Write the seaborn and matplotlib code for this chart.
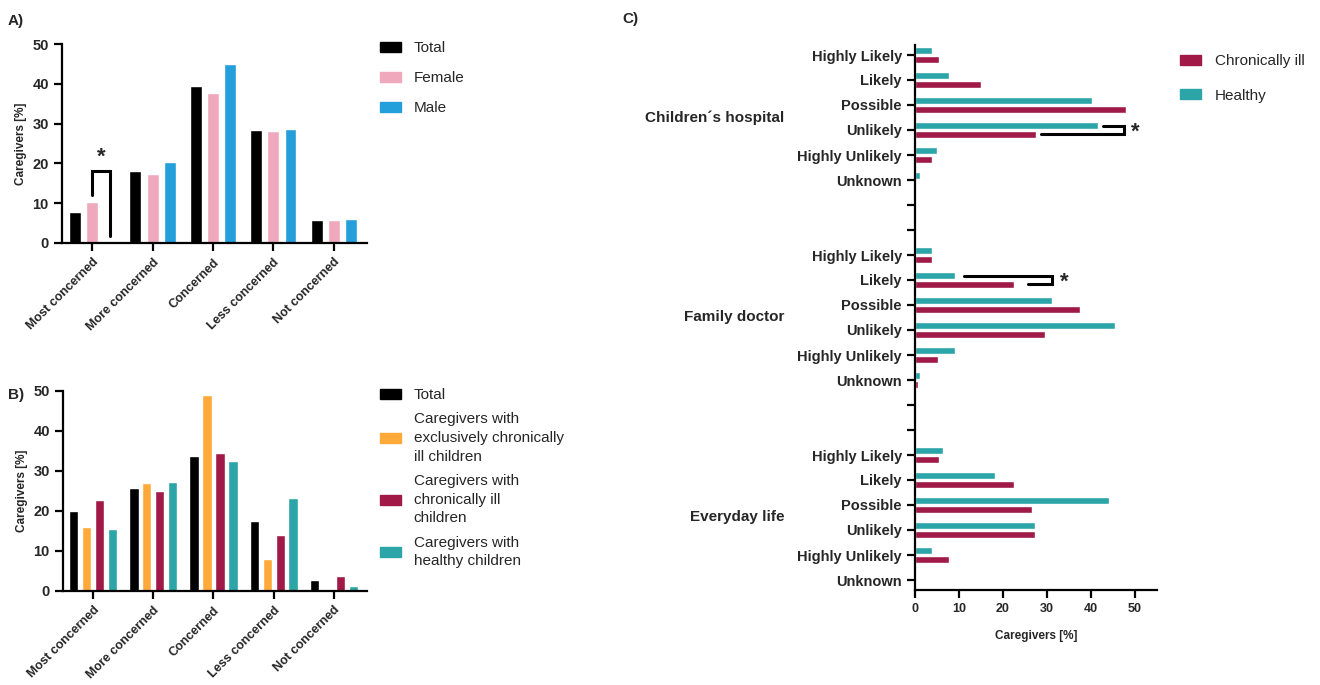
import numpy as np
import pandas as pd
import matplotlib
matplotlib.use("Agg")
import matplotlib.pyplot as plt
import matplotlib.transforms as mtransforms
from matplotlib.patches import Patch
import seaborn as sns

# ---------------- data ----------------
concern = ["Most concerned", "More concerned", "Concerned", "Less concerned", "Not concerned"]

a_groups = ["Total", "Female", "Male"]
a_total = [7.8, 18.0, 39.5, 28.3, 5.8]
a_female = [10.3, 17.3, 37.8, 28.1, 5.8]
a_male = [0.0, 20.3, 44.9, 28.6, 6.1]

b_groups = ["Total",
            "Caregivers with\nexclusively chronically\nill children",
            "Caregivers with\nchronically ill\nchildren",
            "Caregivers with\nhealthy children"]
b_total = [19.9, 25.8, 33.7, 17.5, 2.8]
b_excl = [16.0, 27.0, 49.0, 8.0, 0.0]
b_chronic = [22.7, 25.0, 34.4, 14.0, 3.8]
b_healthy = [15.5, 27.3, 32.5, 23.3, 1.2]

likelihood = ["Highly Likely", "Likely", "Possible", "Unlikely", "Highly Unlikely", "Unknown"]
settings = ["Children´s hospital", "Family doctor", "Everyday life"]
c_groups = ["Healthy", "Chronically ill"]
c_hosp_healthy = [3.9, 7.7, 40.3, 41.5, 5.0, 1.2]
c_hosp_chronic = [5.4, 14.9, 48.0, 27.5, 3.9, 0.0]
c_doc_healthy = [3.9, 9.0, 31.2, 45.4, 9.0, 1.2]
c_doc_chronic = [3.9, 22.6, 37.4, 29.6, 5.3, 0.6]
c_life_healthy = [6.4, 18.2, 44.1, 27.3, 3.9, 0.0]
c_life_chronic = [5.4, 22.6, 26.7, 27.3, 7.7, 0.0]

# ---------------- style ----------------
sns.set_style("ticks")
plt.rcParams["font.family"] = ["Liberation Sans", "DejaVu Sans"]
plt.rcParams["axes.linewidth"] = 1.6

pal_a = {"Total": "#000000", "Female": "#F0A8BC", "Male": "#249FDB"}
pal_b = dict(zip(b_groups, ["#000000", "#FFA93A", "#A11A47", "#2BA5A7"]))
pal_c = {"Healthy": "#2BA5A7", "Chronically ill": "#A11A47"}

fig = plt.figure(figsize=(13.2, 6.85), dpi=100)
W, H = 1320, 685


def fx(px):
    return px / W


def fy(py):
    return 1 - py / H


def style_axes(ax):
    sns.despine(ax=ax)
    ax.tick_params(width=1.6, length=6, color="black")
    for s in ("left", "bottom"):
        ax.spines[s].set_color("black")


# ---------------- panel A ----------------
dfa = pd.DataFrame({
    "concern": concern * 3,
    "group": sum([[g] * 5 for g in a_groups], []),
    "value": a_total + a_female + a_male,
})
axA = fig.add_axes([fx(62), fy(243), fx(305), 199 / H])
sns.barplot(data=dfa, x="concern", y="value", hue="group", order=concern,
            hue_order=a_groups, palette=pal_a, width=0.85, gap=0.3,
            errorbar=None, legend=False, ax=axA, saturation=1)
axA.set_ylim(0, 50)
axA.set_xlim(-0.5, 4.55)
axA.set_yticks([0, 10, 20, 30, 40, 50])
style_axes(axA)
axA.set_xlabel("")
axA.set_ylabel("Caregivers [%]", fontsize=8.5, fontweight="bold")
for lab in axA.get_yticklabels():
    lab.set_fontsize(10.5)
    lab.set_fontweight("bold")
axA.set_xticks(range(5))
axA.set_xticklabels(concern, rotation=45, ha="right", rotation_mode="anchor",
                    fontsize=9, fontweight="bold")
# significance bracket Female vs Male (Most concerned)
sig_h = 18
axA.plot([0, 0, 0.3, 0.3], [12, sig_h, sig_h, 1.7], color="black", lw=2.2,
         solid_joinstyle="miter")
axA.text(0.15, sig_h + 0.8, "*", ha="center", va="bottom", fontsize=16, fontweight="bold")

legA = axA.legend(handles=[Patch(color=pal_a[g], label=g) for g in a_groups],
                  loc="upper left", bbox_to_anchor=(fx(380), fy(41)),
                  bbox_transform=fig.transFigure, frameon=False, fontsize=11,
                  handlelength=1.35, handleheight=0.65, handletextpad=0.85,
                  labelspacing=1.05, borderpad=0, borderaxespad=0)

# ---------------- panel B ----------------
dfb = pd.DataFrame({
    "concern": concern * 4,
    "group": sum([[g] * 5 for g in b_groups], []),
    "value": b_total + b_excl + b_chronic + b_healthy,
})
axB = fig.add_axes([fx(63), fy(591), fx(304), 200 / H])
sns.barplot(data=dfb, x="concern", y="value", hue="group", order=concern,
            hue_order=b_groups, palette=pal_b, width=0.86, gap=0.28,
            errorbar=None, legend=False, ax=axB, saturation=1)
axB.set_ylim(0, 50)
axB.set_xlim(-0.5, 4.55)
axB.set_yticks([0, 10, 20, 30, 40, 50])
style_axes(axB)
axB.set_xlabel("")
axB.set_ylabel("Caregivers [%]", fontsize=8.5, fontweight="bold")
for lab in axB.get_yticklabels():
    lab.set_fontsize(10.5)
    lab.set_fontweight("bold")
axB.set_xticks(range(5))
axB.set_xticklabels(concern, rotation=45, ha="right", rotation_mode="anchor",
                    fontsize=9, fontweight="bold")
legB = axB.legend(handles=[Patch(color=pal_b[g], label=g) for g in b_groups],
                  loc="upper left", bbox_to_anchor=(fx(380), fy(388)),
                  bbox_transform=fig.transFigure, frameon=False, fontsize=11,
                  handlelength=1.35, handleheight=0.65, handletextpad=0.85,
                  labelspacing=0.68, borderpad=0, borderaxespad=0)
for t in legB.get_texts():
    t.set_linespacing(1.42)

# ---------------- panel C ----------------
c_values = {
    ("Children´s hospital", "Healthy"): c_hosp_healthy,
    ("Children´s hospital", "Chronically ill"): c_hosp_chronic,
    ("Family doctor", "Healthy"): c_doc_healthy,
    ("Family doctor", "Chronically ill"): c_doc_chronic,
    ("Everyday life", "Healthy"): c_life_healthy,
    ("Everyday life", "Chronically ill"): c_life_chronic,
}
rows = []
for (s, g), vals in c_values.items():
    for lik, v in zip(likelihood, vals):
        rows.append({"slot": f"{s}|{lik}", "group": g, "value": v})
dfc = pd.DataFrame(rows)

order_c, labels_c = [], []
for i, s in enumerate(settings):
    for lik in likelihood:
        order_c.append(f"{s}|{lik}")
        labels_c.append(lik)
    if i < len(settings) - 1:
        for k in range(2):
            order_c.append(f"blank{i}{k}")
            labels_c.append("")

axC = fig.add_axes([fx(915), fy(590), fx(242), 545 / H])
sns.barplot(data=dfc, y="slot", x="value", hue="group", order=order_c,
            hue_order=c_groups, palette=pal_c, width=0.68, gap=0.2,
            orient="h", errorbar=None, legend=False, ax=axC, saturation=1)
axC.set_xlim(0, 55)
axC.set_ylim(len(order_c) - 1 + 0.4, -0.4)
axC.set_xticks([0, 10, 20, 30, 40, 50])
axC.set_yticks(range(len(order_c)))
axC.set_yticklabels(labels_c, fontsize=10.5, fontweight="bold")
for lab in axC.get_xticklabels():
    lab.set_fontsize(9)
    lab.set_fontweight("bold")
style_axes(axC)
axC.set_ylabel("")
axC.set_xlabel("Caregivers [%]", fontsize=8.5, fontweight="bold", labelpad=11)

trans = mtransforms.blended_transform_factory(axC.transAxes, axC.transData)
for i, s in enumerate(settings):
    ymid = order_c.index(f"{s}|Possible") + 0.5
    axC.text(-0.54, ymid, s, transform=trans, ha="right", va="center",
             fontsize=11, fontweight="bold")

# significance brackets
yU = order_c.index("Children´s hospital|Unlikely")
off = 0.68 / 4
axC.plot([42.7, 47.5, 47.5, 28.7], [yU - off, yU - off, yU + off, yU + off],
         color="black", lw=2.2, solid_joinstyle="miter")
axC.text(49.2, yU + 0.1, "*", ha="left", va="center", fontsize=16, fontweight="bold")
yL = order_c.index("Family doctor|Likely")
axC.plot([11.1, 31.2, 31.2, 25.6], [yL - off, yL - off, yL + off, yL + off],
         color="black", lw=2.2, solid_joinstyle="miter")
axC.text(32.9, yL + 0.1, "*", ha="left", va="center", fontsize=16, fontweight="bold")

legC = axC.legend(handles=[Patch(color=pal_c[g], label=g) for g in ["Chronically ill", "Healthy"]],
                  loc="upper left", bbox_to_anchor=(fx(1180), fy(54)),
                  bbox_transform=fig.transFigure, frameon=False, fontsize=11,
                  handlelength=1.35, handleheight=0.65, handletextpad=0.95,
                  labelspacing=1.35, borderpad=0, borderaxespad=0)

# panel letters
fig.text(fx(8), fy(21), "A)", fontsize=11, fontweight="bold", va="center", ha="left")
fig.text(fx(8), fy(395), "B)", fontsize=11, fontweight="bold", va="center", ha="left")
fig.text(fx(622), fy(19), "C)", fontsize=11, fontweight="bold", va="center", ha="left")

fig.savefig("out.png", dpi=100)
